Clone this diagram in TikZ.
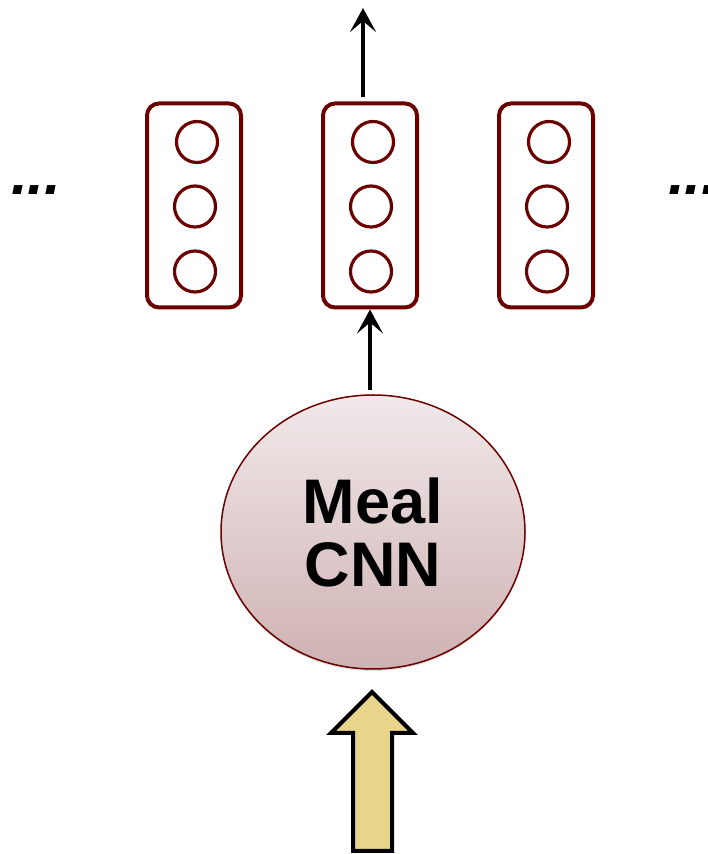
\documentclass[tikz,border=0pt]{standalone}
\usepackage{fontspec}
\setmainfont{Liberation Sans}
\usetikzlibrary{arrows.meta,shadows,shapes.geometric}
\definecolor{dred}{HTML}{6B0000}
\definecolor{etop}{HTML}{F1E9EA}
\definecolor{ebot}{HTML}{CFB1B2}
\definecolor{fatfill}{HTML}{E8D48A}
\tikzset{
  vecbox/.style={draw=dred,line width=4pt,rounded corners=12pt,minimum width=94pt,minimum height=204pt,inner sep=0pt},
  unit/.style={draw=dred,line width=3.2pt,circle,minimum size=41pt,inner sep=0pt},
  thinarrow/.style={line width=4pt,-{Stealth[length=24pt,width=26pt,inset=11pt]}},
  dots/.style={font=\fontsize{60}{60}\selectfont\bfseries\itshape,anchor=base west,inner sep=0pt}
}
\begin{document}
\begin{tikzpicture}[x=1pt,y=1pt]
\useasboundingbox (0,0) rectangle (708,854);
% vector boxes
\foreach \n/\x in {L/194,M/370,R/546}{
  \node[vecbox] (box\n) at (\x,648.5) {};
  \node[unit] (c\n1) at (\x+3,712) {};
  \node[unit] (c\n2) at (\x+1,647.5) {};
  \node[unit] (c\n3) at (\x+1,582.5) {};
}
\node[dots] (dl) at (11,659) {...};
\node[dots] (dr) at (668,659) {...};
% ellipse
\node[ellipse,draw=dred,line width=1.5pt,minimum width=304pt,minimum height=274pt,
  top color=etop,bottom color=ebot,inner sep=0pt,
  drop shadow={shadow xshift=0pt,shadow yshift=-2pt,opacity=0.25}] (cnn) at (373,322) {};
\node[font=\fontsize{63}{63}\selectfont\bfseries,align=center] (lbl) at (cnn.center) {Meal\\CNN};
% arrows
\coordinate (mstart) at (370,464);
\draw[thinarrow] (mstart) -- (boxM.south);
\coordinate (ttip) at (363,846);
\coordinate (tstart) at (363,757);
\draw[thinarrow] (tstart) -- (ttip);
% fat arrow
\draw[line width=4pt,fill=fatfill,line join=miter]
  (353,3) -- (353,121) -- (331,121) -- (372,162) -- (413,121) -- (392,121) -- (392,3) -- cycle;
\end{tikzpicture}
\end{document}
